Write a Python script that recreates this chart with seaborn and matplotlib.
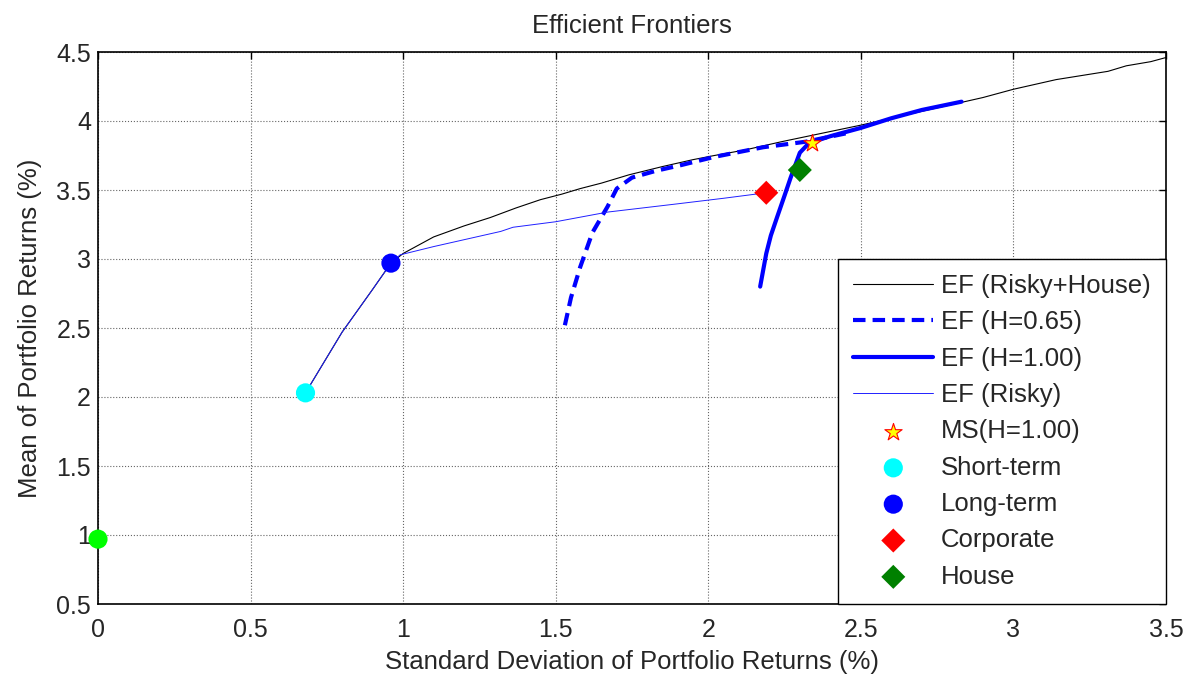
import numpy as np
import pandas as pd
import matplotlib
matplotlib.use("Agg")
import matplotlib.pyplot as plt
import seaborn as sns

# --- values (std %, mean %) ---
# EF (Risky+House)
ef_rh_x = [0.68, 0.80, 0.90, 0.96, 1.00, 1.05, 1.10, 1.20, 1.285, 1.37, 1.45, 1.52, 1.58, 1.65, 1.74, 1.85, 1.95, 2.02, 2.12, 2.24, 2.37, 2.50, 2.60, 2.70, 2.80, 2.90, 3.00, 3.14, 3.31, 3.37, 3.45, 3.50]
ef_rh_y = [2.03, 2.47, 2.78, 2.97, 3.04, 3.10, 3.16, 3.24, 3.30, 3.37, 3.43, 3.47, 3.51, 3.55, 3.61, 3.67, 3.72, 3.75, 3.79, 3.85, 3.91, 3.97, 4.02, 4.07, 4.12, 4.17, 4.23, 4.30, 4.36, 4.40, 4.43, 4.46]

# EF (H=0.65)
ef_h65_x = [1.53, 1.55, 1.58, 1.62, 1.67, 1.70, 1.75, 1.83, 1.91, 2.02, 2.18, 2.32, 2.45]
ef_h65_y = [2.52, 2.72, 2.94, 3.19, 3.38, 3.51, 3.59, 3.64, 3.68, 3.74, 3.81, 3.85, 3.91]

# EF (H=1.00)
ef_h100_x = [2.17, 2.19, 2.205, 2.225, 2.25, 2.27, 2.30, 2.33, 2.40, 2.50, 2.60, 2.70, 2.83]
ef_h100_y = [2.80, 3.04, 3.17, 3.30, 3.46, 3.59, 3.77, 3.84, 3.89, 3.95, 4.02, 4.08, 4.14]

# EF (Risky)
ef_r_x = [0.68, 0.80, 0.90, 0.96, 0.99, 1.10, 1.20, 1.32, 1.36, 1.50, 1.67, 1.90, 2.05, 2.19]
ef_r_y = [2.03, 2.47, 2.78, 2.97, 3.03, 3.09, 3.14, 3.20, 3.23, 3.27, 3.34, 3.40, 3.44, 3.48]

# single assets / portfolios
ms_xy = (2.34, 3.84)
short_xy = (0.68, 2.03)
long_xy = (0.96, 2.97)
corp_xy = (2.19, 3.48)
house_xy = (2.30, 3.645)
rf_xy = (0.0, 0.97)

sns.set_style("white")
plt.rcParams["font.family"] = ["Liberation Sans", "DejaVu Sans"]

fig = plt.figure(figsize=(11.97, 6.75), dpi=100)
ax = fig.add_axes([98 / 1197, 1 - 604 / 675, (1166 - 98) / 1197, (604 - 52) / 675])

sns.lineplot(x=ef_rh_x, y=ef_rh_y, sort=False, estimator=None, color="black", lw=0.8,
             label="EF (Risky+House)", ax=ax)
sns.lineplot(x=ef_h65_x, y=ef_h65_y, sort=False, estimator=None, color="blue", lw=3,
             linestyle=(0, (3, 1.7)), label="EF (H=0.65)", ax=ax)
sns.lineplot(x=ef_h100_x, y=ef_h100_y, sort=False, estimator=None, color="blue", lw=3,
             label="EF (H=1.00)", ax=ax)
sns.lineplot(x=ef_r_x, y=ef_r_y, sort=False, estimator=None, color="#2020ff", lw=0.7,
             label="EF (Risky)", ax=ax)

sns.scatterplot(x=[ms_xy[0]], y=[ms_xy[1]], marker="*", s=170, color="yellow",
                edgecolor="red", linewidth=0.8, label="MS(H=1.00)", zorder=5, ax=ax)
sns.scatterplot(x=[short_xy[0]], y=[short_xy[1]], marker="o", s=190, color="cyan",
                edgecolor="none", label="Short-term", zorder=4, ax=ax)
sns.scatterplot(x=[long_xy[0]], y=[long_xy[1]], marker="o", s=190, color="blue",
                edgecolor="none", label="Long-term", zorder=4, ax=ax)
sns.scatterplot(x=[corp_xy[0]], y=[corp_xy[1]], marker="D", s=150, color="red",
                edgecolor="none", label="Corporate", zorder=4, ax=ax)
sns.scatterplot(x=[house_xy[0]], y=[house_xy[1]], marker="D", s=150, color="green",
                edgecolor="none", label="House", zorder=4, ax=ax)
sns.scatterplot(x=[rf_xy[0]], y=[rf_xy[1]], marker="o", s=190, color="#00ff00",
                edgecolor="none", label="_nolegend_", zorder=4, clip_on=False, ax=ax)

ax.set_xlim(0, 3.5)
ax.set_ylim(0.5, 4.5)
ax.set_xticks(np.arange(0, 3.51, 0.5))
ax.set_yticks(np.arange(0.5, 4.51, 0.5))
ax.set_xticklabels(["0", "0.5", "1", "1.5", "2", "2.5", "3", "3.5"])
ax.set_yticklabels(["0.5", "1", "1.5", "2", "2.5", "3", "3.5", "4", "4.5"])
ax.tick_params(direction="in", length=5, width=1, labelsize=18, top=True, right=True,
               color="black", pad=5)
ax.tick_params(axis="x", pad=10)
ax.grid(True, linestyle=":", color="#666666", lw=0.8)
for s in ax.spines.values():
    s.set_color("black")
    s.set_linewidth(1.2)

ax.set_title("Efficient Frontiers", fontsize=18.5, pad=14)
ax.set_xlabel("Standard Deviation of Portfolio Returns (%)", fontsize=18.5, labelpad=6)
ax.set_ylabel("Mean of Portfolio Returns (%)", fontsize=18.5, labelpad=10)

leg = ax.legend(loc="lower right", bbox_to_anchor=(1, 0), borderaxespad=0, fontsize=18.5,
                frameon=True, fancybox=False, framealpha=1, edgecolor="black",
                handlelength=3.1, labelspacing=0.48, borderpad=0.6, handletextpad=0.3)
leg.get_frame().set_linewidth(1.0)

fig.savefig("out.png", dpi=100)
